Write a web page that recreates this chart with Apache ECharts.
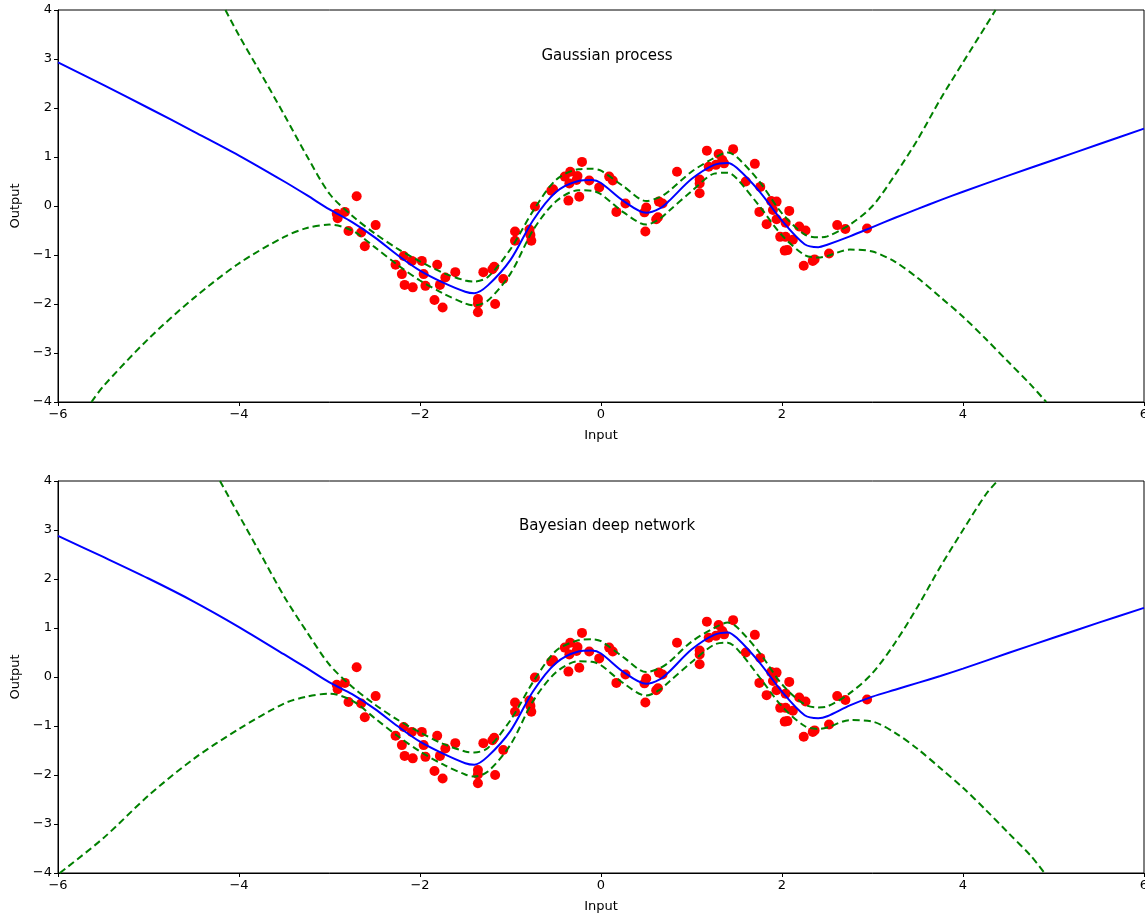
<!DOCTYPE html>
<html>
<head>
<meta charset="utf-8">
<script src="https://cdn.jsdelivr.net/npm/echarts@6/dist/echarts.min.js"></script>
<style>
    html, body { margin: 0; padding: 0; background: #fff; }
    #main { width: 1145px; height: 913px; }
</style>
</head>
<body>
<div id="main"></div>
<script>
// 训练数据 (两幅图相同)
var trainPoints = [
    [-2.92, -0.16], [-2.91, -0.25], [-2.83, -0.12], [-2.70, 0.20], [-2.79, -0.51], [-2.65, -0.54], [-2.61, -0.82], [-2.49, -0.39],
    [-2.27, -1.20], [-2.20, -1.39], [-2.18, -1.02], [-2.17, -1.61], [-2.09, -1.12], [-2.08, -1.66], [-1.98, -1.12], [-1.96, -1.39],
    [-1.94, -1.63], [-1.84, -1.92], [-1.81, -1.20], [-1.78, -1.61], [-1.75, -2.07], [-1.72, -1.46], [-1.61, -1.35],
    [-1.36, -1.90], [-1.36, -1.99], [-1.36, -2.17], [-1.30, -1.35], [-1.20, -1.29], [-1.18, -1.24], [-1.17, -2.00], [-1.08, -1.49],
    [-0.95, -0.52], [-0.95, -0.71], [-0.79, -0.48], [-0.78, -0.59], [-0.77, -0.71], [-0.73, -0.01],
    [-0.55, 0.31], [-0.53, 0.34], [-0.40, 0.60], [-0.36, 0.11], [-0.35, 0.46], [-0.34, 0.70], [-0.27, 0.53], [-0.26, 0.61],
    [-0.24, 0.19], [-0.21, 0.90], [-0.13, 0.52], [-0.02, 0.38],
    [0.09, 0.60], [0.13, 0.52], [0.17, -0.12], [0.27, 0.05], [0.48, -0.13], [0.49, -0.52], [0.50, -0.03], [0.61, -0.27],
    [0.63, -0.23], [0.64, 0.09], [0.68, 0.05], [0.84, 0.70],
    [1.09, 0.54], [1.09, 0.46], [1.09, 0.26], [1.17, 1.13], [1.19, 0.80], [1.27, 0.84], [1.30, 1.06], [1.34, 0.94], [1.36, 0.87],
    [1.46, 1.16], [1.60, 0.50], [1.70, 0.86], [1.75, -0.12], [1.76, 0.39], [1.83, -0.37], [1.88, 0.10], [1.90, -0.08], [1.94, 0.09],
    [1.94, -0.27], [1.98, -0.63], [2.03, -0.91], [2.04, -0.34], [2.04, -0.63], [2.06, -0.90], [2.08, -0.10], [2.12, -0.69],
    [2.19, -0.42], [2.24, -1.22], [2.26, -0.50], [2.34, -1.12], [2.36, -1.09], [2.52, -0.97], [2.61, -0.39], [2.70, -0.47], [2.94, -0.46]
];

// 上图: Gaussian process
var gpMean = [
    [-6, 2.93], [-5.5, 2.47], [-5, 2.00], [-4.5, 1.52], [-4, 1.03], [-3.5, 0.50], [-3.25, 0.22], [-3, -0.07], [-2.75, -0.33],
    [-2.5, -0.64], [-2.25, -1.00], [-2, -1.32], [-1.75, -1.56], [-1.5, -1.75], [-1.4, -1.78], [-1.25, -1.62], [-1, -1.10],
    [-0.75, -0.29], [-0.5, 0.28], [-0.25, 0.51], [-0.1, 0.53], [0, 0.47], [0.25, 0.10], [0.5, -0.14], [0.65, -0.05], [0.75, 0.10],
    [1, 0.55], [1.25, 0.84], [1.4, 0.88], [1.5, 0.78], [1.75, 0.30], [2, -0.30], [2.25, -0.78], [2.4, -0.84], [2.5, -0.79],
    [2.75, -0.62], [3, -0.43], [3.25, -0.24], [3.5, -0.06], [3.75, 0.12], [4, 0.29], [4.5, 0.62], [5, 0.94], [5.5, 1.26], [6, 1.58]
];
var gpUpper = [
    [-4.15, 4.0], [-4, 3.48], [-3.8, 2.84], [-3.5, 1.86], [-3.25, 1.02], [-3, 0.25], [-2.75, -0.20], [-2.5, -0.56], [-2.25, -0.87],
    [-2, -1.13], [-1.75, -1.36], [-1.5, -1.52], [-1.4, -1.54], [-1.25, -1.45], [-1, -0.88], [-0.75, -0.10], [-0.5, 0.53],
    [-0.25, 0.75], [-0.1, 0.76], [0, 0.72], [0.25, 0.40], [0.5, 0.10], [0.65, 0.18], [0.75, 0.30], [1, 0.70], [1.25, 0.98],
    [1.4, 1.09], [1.5, 1.00], [1.75, 0.50], [2, -0.15], [2.25, -0.58], [2.4, -0.64], [2.5, -0.62], [2.75, -0.38], [3, 0.00],
    [3.25, 0.64], [3.5, 1.36], [3.75, 2.18], [4, 2.93], [4.25, 3.67], [4.36, 4.0]
];
var gpLower = [
    [-5.63, -4.0], [-5.5, -3.68], [-5, -2.71], [-4.5, -1.88], [-4, -1.17], [-3.5, -0.63], [-3.25, -0.45], [-3, -0.38],
    [-2.75, -0.50], [-2.5, -0.84], [-2.25, -1.20], [-2, -1.52], [-1.75, -1.78], [-1.5, -1.99], [-1.4, -2.03], [-1.25, -1.93],
    [-1, -1.38], [-0.75, -0.49], [-0.5, 0.09], [-0.25, 0.32], [-0.1, 0.31], [0, 0.24], [0.25, -0.13], [0.5, -0.38], [0.65, -0.26],
    [0.75, -0.10], [1, 0.30], [1.25, 0.66], [1.4, 0.68], [1.5, 0.56], [1.75, 0.00], [2, -0.60], [2.25, -1.00], [2.4, -1.05],
    [2.5, -1.02], [2.75, -0.89], [3, -0.93], [3.25, -1.14], [3.5, -1.47], [3.75, -1.86], [4, -2.26], [4.25, -2.71],
    [4.5, -3.18], [4.75, -3.65], [4.92, -4.0]
];

// 下图: Bayesian deep network
var bdnMean = [
    [-6, 2.88], [-5.5, 2.45], [-5, 2.01], [-4.5, 1.54], [-4, 1.02], [-3.5, 0.46], [-3.25, 0.18], [-3, -0.11], [-2.75, -0.35],
    [-2.5, -0.65], [-2.25, -1.00], [-2, -1.32], [-1.75, -1.56], [-1.5, -1.76], [-1.4, -1.79], [-1.25, -1.62], [-1, -1.10],
    [-0.75, -0.29], [-0.5, 0.28], [-0.25, 0.52], [-0.1, 0.54], [0, 0.48], [0.25, 0.10], [0.5, -0.14], [0.65, -0.05], [0.75, 0.10],
    [1, 0.56], [1.25, 0.86], [1.4, 0.91], [1.5, 0.80], [1.75, 0.30], [2, -0.30], [2.25, -0.78], [2.4, -0.84], [2.5, -0.80],
    [2.75, -0.58], [3, -0.40], [3.25, -0.26], [3.5, -0.12], [3.75, 0.02], [4, 0.17], [4.5, 0.49], [5, 0.80], [5.5, 1.11], [6, 1.41]
];
var bdnUpper = [
    [-4.21, 4.0], [-4, 3.30], [-3.8, 2.64], [-3.5, 1.64], [-3.25, 0.92], [-3, 0.25], [-2.75, -0.20], [-2.5, -0.56], [-2.25, -0.87],
    [-2, -1.13], [-1.75, -1.36], [-1.5, -1.52], [-1.4, -1.54], [-1.25, -1.45], [-1, -0.88], [-0.75, -0.10], [-0.5, 0.53],
    [-0.25, 0.75], [-0.1, 0.77], [0, 0.73], [0.25, 0.40], [0.5, 0.10], [0.65, 0.18], [0.75, 0.30], [1, 0.72], [1.25, 1.00],
    [1.4, 1.11], [1.5, 1.02], [1.75, 0.50], [2, -0.15], [2.25, -0.56], [2.4, -0.62], [2.5, -0.60], [2.75, -0.33], [3, 0.08],
    [3.25, 0.70], [3.5, 1.44], [3.75, 2.25], [4, 3.00], [4.25, 3.72], [4.38, 4.0]
];
var bdnLower = [
    [-5.98, -4.0], [-5.5, -3.29], [-5, -2.42], [-4.5, -1.67], [-4, -1.06], [-3.5, -0.54], [-3.25, -0.40], [-3, -0.34],
    [-2.75, -0.48], [-2.5, -0.84], [-2.25, -1.20], [-2, -1.52], [-1.75, -1.78], [-1.5, -1.99], [-1.4, -2.03], [-1.25, -1.93],
    [-1, -1.38], [-0.75, -0.49], [-0.5, 0.09], [-0.25, 0.32], [-0.1, 0.31], [0, 0.24], [0.25, -0.13], [0.5, -0.38], [0.65, -0.26],
    [0.75, -0.10], [1, 0.30], [1.25, 0.66], [1.4, 0.70], [1.5, 0.58], [1.75, 0.00], [2, -0.60], [2.25, -1.00], [2.4, -1.06],
    [2.5, -1.03], [2.75, -0.88], [3, -0.91], [3.25, -1.14], [3.5, -1.47], [3.75, -1.86], [4, -2.26], [4.25, -2.71],
    [4.5, -3.18], [4.75, -3.65], [4.9, -4.0]
];

var xTicks = [-6, -4, -2, 0, 2, 4, 6];
var yTicks = [-4, -3, -2, -1, 0, 1, 2, 3, 4];
var panelTitles = ['Gaussian process', 'Bayesian deep network'];

var fontName = 'DejaVu Sans';
var minusFmt = function(v) {
    return String(v).replace('-', '\u2212');
};

function makeXAxis(gridIndex) {
    return {
        type : 'value',
        gridIndex : gridIndex,
        min : xTicks[0],
        max : xTicks[xTicks.length - 1],
        interval : 2,
        name : 'Input',
        nameLocation : 'middle',
        nameGap : 27,
        nameTextStyle : {
            color : '#000',
            fontFamily : fontName,
            fontSize : 13
        },
        axisLine : {
            show : true,
            onZero : false,
            lineStyle : { color : '#000', width : 1 }
        },
        axisTick : {
            show : true,
            length : 4,
            lineStyle : { color : '#000' }
        },
        axisLabel : {
            color : '#000',
            fontFamily : fontName,
            fontSize : 13,
            margin : 6,
            hideOverlap : false,
            formatter : minusFmt
        },
        splitLine : { show : false }
    };
}

function makeYAxis(gridIndex) {
    return {
        type : 'value',
        gridIndex : gridIndex,
        min : yTicks[0],
        max : yTicks[yTicks.length - 1],
        interval : 1,
        name : 'Output',
        nameLocation : 'middle',
        nameGap : 33,
        nameTextStyle : {
            color : '#000',
            fontFamily : fontName,
            fontSize : 13
        },
        axisLine : {
            show : true,
            onZero : false,
            lineStyle : { color : '#000', width : 1 }
        },
        axisTick : {
            show : true,
            length : 4,
            lineStyle : { color : '#000' }
        },
        axisLabel : {
            color : '#000',
            fontFamily : fontName,
            fontSize : 13,
            margin : 6,
            formatter : minusFmt
        },
        splitLine : { show : false }
    };
}

function lineSeries(idx, data, color, dashed) {
    return {
        type : 'line',
        xAxisIndex : idx,
        yAxisIndex : idx,
        data : data,
        smooth : 0.3,
        symbol : 'none',
        clip : true,
        z : dashed ? 3 : 4,
        lineStyle : {
            color : color,
            width : 2,
            type : dashed ? [7, 4] : 'solid'
        }
    };
}

function dotSeries(idx, data) {
    return {
        type : 'scatter',
        xAxisIndex : idx,
        yAxisIndex : idx,
        data : data,
        symbol : 'circle',
        symbolSize : 10,
        z : 2,
        itemStyle : { color : '#ff0000', opacity : 1 }
    };
}

function makeGrid(top) {
    return {
        left : 58,
        top : top,
        width : 1086,
        height : 392,
        containLabel : false,
        outerBoundsMode : 'none',
        show : true,
        borderColor : '#000',
        borderWidth : 1,
        backgroundColor : 'transparent'
    };
}

var chart = echarts.init(document.getElementById('main'), null, { renderer : 'canvas' });
var option = {
    animation : false,
    backgroundColor : '#fff',
    title : [{
        text : panelTitles[0],
        left : 602,
        top : 44,
        textAlign : 'center',
        textStyle : { color : '#000', fontFamily : fontName, fontSize : 15, fontWeight : 'normal' }
    }, {
        text : panelTitles[1],
        left : 602,
        top : 514,
        textAlign : 'center',
        textStyle : { color : '#000', fontFamily : fontName, fontSize : 15, fontWeight : 'normal' }
    }],
    grid : [makeGrid(10), makeGrid(481)],
    xAxis : [makeXAxis(0), makeXAxis(1)],
    yAxis : [makeYAxis(0), makeYAxis(1)],
    series : [
        dotSeries(0, trainPoints),
        lineSeries(0, gpUpper, '#008000', true),
        lineSeries(0, gpLower, '#008000', true),
        lineSeries(0, gpMean, '#0000ff', false),
        dotSeries(1, trainPoints),
        lineSeries(1, bdnUpper, '#008000', true),
        lineSeries(1, bdnLower, '#008000', true),
        lineSeries(1, bdnMean, '#0000ff', false)
    ]
};
chart.setOption(option);
</script>
</body>
</html>
